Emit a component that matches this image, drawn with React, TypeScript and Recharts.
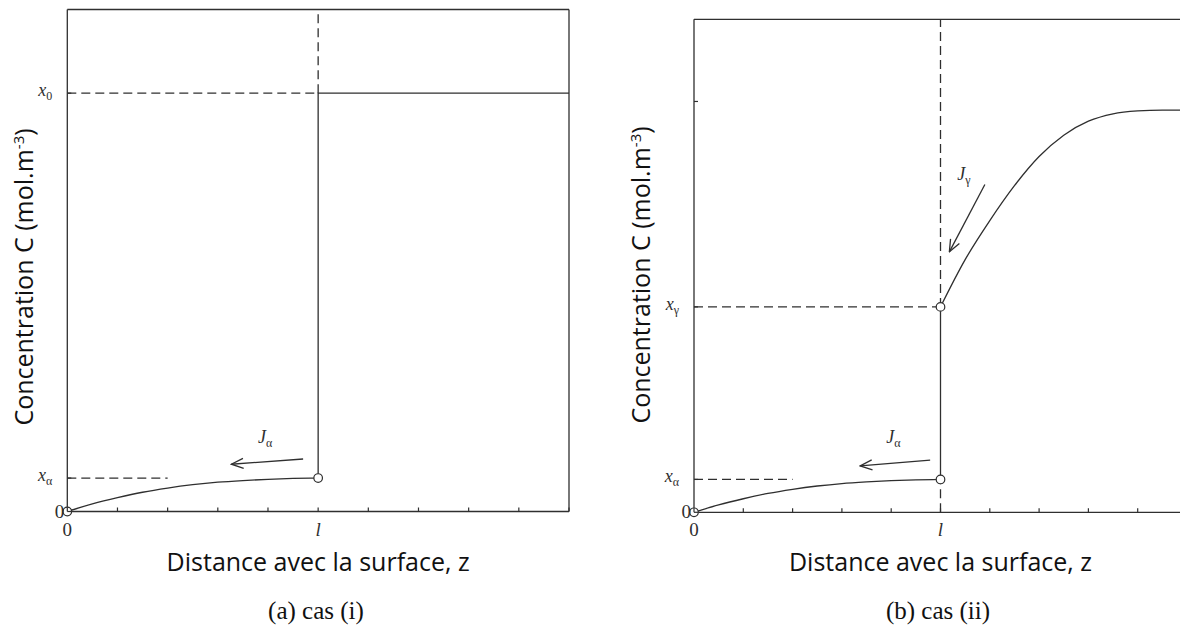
import React from 'react';
import { ComposedChart, Line, Scatter, XAxis, YAxis, Label } from 'recharts';

const INK = '#2f2f2f';
const SERIF = '"Liberation Serif", "Times New Roman", serif';
const SANS = '"Open Sans", "Noto Sans", sans-serif';

// distance axis: l sits at 5, the box runs to 10
const zTicks = [0, 1, 2, 3, 4, 5, 6, 7, 8, 9, 10];
const zTickLabels: Record<number, string> = { 0: '0', 5: 'l' };
const L = 5;
const Z_MAX = 10;
const C_MAX = 1.2;

const X0 = 1.0;
const X_ALPHA = 0.08;
const X_GAMMA = 0.5;

// alpha profile from the surface to l
const alphaZ = [0, 0.5, 1, 1.5, 2, 2.5, 3, 3.5, 4, 4.5, 5];
const alphaC = [0, 0.018, 0.033, 0.046, 0.056, 0.064, 0.07, 0.074, 0.077, 0.079, 0.08];

// gamma profile beyond l (case ii)
const gammaZ = [5, 5.5, 6, 6.5, 7, 7.5, 8, 8.5, 9, 9.5, 10];
const gammaC = [0.5, 0.615, 0.71, 0.795, 0.866, 0.918, 0.952, 0.97, 0.977, 0.979, 0.979];

// y tick labels: '' = plain 0, null = tick only
const leftCTicks = [0, X_ALPHA, X0];
const leftCSubs: (string | null)[] = ['', 'α', '0'];
const rightCTicks = [0, X_ALPHA, X_GAMMA, X0];
const rightCSubs: (string | null)[] = ['', 'α', 'γ', null];

// flux arrows (tail -> head) and their labels
const jAlphaLeftZ = [4.7, 3.27];
const jAlphaLeftC = [0.1255, 0.113];
const jAlphaRightZ = [4.79, 3.37];
const jAlphaRightC = [0.127, 0.113];
const jGammaZ = [5.9, 5.18];
const jGammaC = [0.798, 0.634];

type Pt = { z: number; c: number; sub?: string };
const zip = (zs: number[], cs: number[]): Pt[] => zs.map((z, i) => ({ z, c: cs[i] }));

const ZTick = (props: any) => {
  const { x, y, payload } = props;
  const lab = zTickLabels[payload.value];
  return (
    <g>
      <line x1={x} y1={y} x2={x} y2={y - 4} stroke={INK} strokeWidth={1.2} />
      {lab && (
        <text x={x} y={y + 24} textAnchor="middle" fontFamily={SERIF} fontSize={19}
          fontStyle={lab === 'l' ? 'italic' : 'normal'} fill={INK}>{lab}</text>
      )}
    </g>
  );
};

const ZTopTick = (props: any) => {
  const { x, y } = props;
  return <line x1={x} y1={y} x2={x} y2={y + 4} stroke={INK} strokeWidth={1.2} />;
};

const CTick = (props: any) => {
  const { x, y, payload, ticks, subs } = props;
  const sub = subs[ticks.indexOf(payload.value)];
  return (
    <g>
      <line x1={x} y1={y} x2={x + 4} y2={y} stroke={INK} strokeWidth={1.2} />
      {sub === '' && (
        <text x={x - 3} y={y + 6} textAnchor="end" fontFamily={SERIF} fontSize={19} fill={INK}>0</text>
      )}
      {sub && (
        <text x={x - 15} y={y + 3} textAnchor="end" fontFamily={SERIF} fill={INK}>
          <tspan fontStyle="italic" fontSize={18}>x</tspan>
          <tspan fontSize={12} dy={4}>{sub}</tspan>
        </text>
      )}
    </g>
  );
};

const FluxLabel = (props: any) => {
  const { cx, cy, payload } = props;
  return (
    <text x={cx - 9} y={cy + 5} fontFamily={SERIF} fill={INK}>
      <tspan fontStyle="italic" fontSize={18}>J</tspan>
      <tspan fontSize={12} dy={4}>{payload.sub}</tspan>
    </text>
  );
};

const OpenDot = (props: any) => (
  <circle cx={props.cx} cy={props.cy} r={4.3} fill="#fff" stroke={INK} strokeWidth={1.2} />
);

type PanelCfg = {
  id: string;
  width: number;
  height: number;
  // plot box edges inside the svg
  box: { top: number; right: number; bottom: number; left: number };
  cTicks: number[];
  cSubs: (string | null)[];
  solid: Pt[][];
  curves: Pt[][];
  dashed: Pt[][];
  arrows: Pt[][];
  marks: Pt[];
  labels: Pt[];
  yTitleX: number;
  yTitleY: number;
};

// axes need 1px of room or recharts skips them
const AX = 1;

function Panel({ cfg }: { cfg: PanelCfg }) {
  const { width, height, box } = cfg;
  const margin = {
    top: box.top - AX,
    right: box.right - AX,
    bottom: box.bottom - AX,
    left: box.left - AX,
  };
  const plotW = width - box.left - box.right;
  const plotH = height - box.top - box.bottom;
  const xTitleX = box.left + plotW / 2;
  const xTitleY = box.top + plotH + 59;
  const axisLine = { stroke: INK, strokeWidth: 1.3 };

  return (
    <ComposedChart width={width} height={height} margin={margin}>
      <defs>
        <marker id={`head-${cfg.id}`} viewBox="0 0 14 12" refX="13" refY="6" markerWidth="14"
          markerHeight="12" markerUnits="userSpaceOnUse" orient="auto">
          <path d="M1,1 L13,6 L1,11" fill="none" stroke={INK} strokeWidth="1.3" />
        </marker>
      </defs>
      <XAxis xAxisId="z" dataKey="z" type="number" domain={[0, Z_MAX]} ticks={zTicks} interval={0}
        height={AX} tickSize={0} tickMargin={0} tickLine={false} axisLine={axisLine} tick={<ZTick />}>
        <Label content={() => (
          <text x={xTitleX} y={xTitleY} textAnchor="middle" fontFamily={SANS} fontSize={25} fill="#111">
            Distance avec la surface, z
          </text>
        )} />
      </XAxis>
      <XAxis xAxisId="top" orientation="top" type="number" domain={[0, Z_MAX]} ticks={zTicks} interval={0}
        height={AX} tickSize={0} tickMargin={0} tickLine={false} axisLine={axisLine} tick={<ZTopTick />} />
      <YAxis yAxisId="c" dataKey="c" type="number" domain={[0, C_MAX]} ticks={cfg.cTicks} interval={0}
        width={AX} tickSize={0} tickMargin={0} tickLine={false} axisLine={axisLine}
        tick={<CTick ticks={cfg.cTicks} subs={cfg.cSubs} />}>
        <Label content={() => (
          <text x={cfg.yTitleX} y={cfg.yTitleY} textAnchor="middle" fontFamily={SANS} fontSize={25} fill="#111"
            transform={`rotate(-90 ${cfg.yTitleX} ${cfg.yTitleY})`}>
            Concentration C (mol.m<tspan dy={-9} fontSize={15}>-3</tspan><tspan dy={9}>)</tspan>
          </text>
        )} />
      </YAxis>
      <YAxis yAxisId="frame" orientation="right" type="number" domain={[0, C_MAX]} width={AX}
        tick={false} tickLine={false} axisLine={axisLine} />

      {cfg.dashed.map((d, i) => (
        <Line key={`d${i}`} xAxisId="z" yAxisId="c" data={d} dataKey="c" type="linear" stroke={INK}
          strokeWidth={1.3} strokeDasharray="9 5" dot={false} isAnimationActive={false} />
      ))}
      {cfg.curves.map((d, i) => (
        <Line key={`k${i}`} xAxisId="z" yAxisId="c" data={d} dataKey="c" type="monotone" stroke={INK}
          strokeWidth={1.3} dot={false} isAnimationActive={false} />
      ))}
      {cfg.solid.map((d, i) => (
        <Line key={`s${i}`} xAxisId="z" yAxisId="c" data={d} dataKey="c" type="linear" stroke={INK}
          strokeWidth={1.3} dot={false} isAnimationActive={false} />
      ))}
      {cfg.arrows.map((d, i) => (
        <Line key={`a${i}`} xAxisId="z" yAxisId="c" data={d} dataKey="c" type="linear" stroke={INK}
          strokeWidth={1.3} dot={false} markerEnd={`url(#head-${cfg.id})`} isAnimationActive={false} />
      ))}
      <Scatter xAxisId="z" yAxisId="c" data={cfg.marks} shape={<OpenDot />} isAnimationActive={false} />
      <Scatter xAxisId="z" yAxisId="c" data={cfg.labels} shape={<FluxLabel />} isAnimationActive={false} />
    </ComposedChart>
  );
}

// page coordinates: the left svg starts at x=0, the right one at x=610
const leftCfg: PanelCfg = {
  id: 'a',
  width: 600,
  height: 580,
  box: { top: 9.5, right: 31, bottom: 68.5, left: 67.3 },
  cTicks: leftCTicks,
  cSubs: leftCSubs,
  solid: [zip([L, L, Z_MAX], [X_ALPHA, X0, X0])],
  curves: [zip(alphaZ, alphaC)],
  dashed: [
    zip([0, L], [X0, X0]),
    zip([L, L], [X0, C_MAX]),
    zip([0, 2], [X_ALPHA, X_ALPHA]),
  ],
  arrows: [zip(jAlphaLeftZ, jAlphaLeftC)],
  marks: zip([0, L], [0, X_ALPHA]),
  labels: [{ z: 3.98, c: 0.176, sub: 'α' }],
  yTitleX: 33,
  yTitleY: 277,
};

const rightCfg: PanelCfg = {
  id: 'b',
  width: 597,
  height: 580,
  box: { top: 19.3, right: 20, bottom: 67.7, left: 84 },
  cTicks: rightCTicks,
  cSubs: rightCSubs,
  solid: [zip([L, L], [X_ALPHA, X_GAMMA])],
  curves: [zip(alphaZ, alphaC), zip(gammaZ, gammaC)],
  dashed: [
    zip([0, L], [X_GAMMA, X_GAMMA]),
    zip([L, L], [X_GAMMA, C_MAX]),
    zip([L, L], [0, X_ALPHA]),
    zip([0, 2], [X_ALPHA, X_ALPHA]),
  ],
  arrows: [zip(jAlphaRightZ, jAlphaRightC), zip(jGammaZ, jGammaC)],
  marks: zip([0, L, L], [0, X_ALPHA, X_GAMMA]),
  labels: [
    { z: 4.08, c: 0.182, sub: 'α' },
    { z: 5.52, c: 0.821, sub: 'γ' },
  ],
  yTitleX: 40,
  yTitleY: 275,
};

const captionStyle: React.CSSProperties = {
  position: 'absolute',
  top: 597,
  width: 200,
  textAlign: 'center',
  fontFamily: SERIF,
  fontSize: 25,
  lineHeight: '28px',
  color: '#111',
};

export default function App() {
  return (
    <div style={{ position: 'absolute', left: 0, top: 0, width: 1180, height: 637, overflow: 'hidden', background: '#fff' }}>
      <div style={{ position: 'absolute', left: 0, top: 0 }}>
        <Panel cfg={leftCfg} />
      </div>
      <div style={{ position: 'absolute', left: 610, top: 0 }}>
        <Panel cfg={rightCfg} />
      </div>
      <div style={{ ...captionStyle, left: 316 - 100 }}>(a) cas (i)</div>
      <div style={{ ...captionStyle, left: 938 - 100 }}>(b) cas (ii)</div>
    </div>
  );
}
